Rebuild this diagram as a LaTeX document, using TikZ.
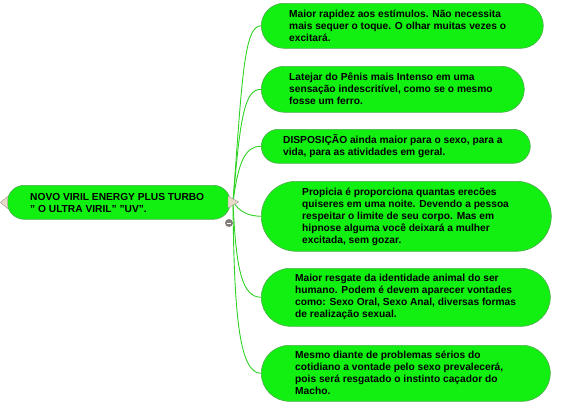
\documentclass[tikz,border=0pt]{standalone}
\usepackage{fontspec}
\setmainfont{Liberation Sans}
\definecolor{pillgreen}{RGB}{18,240,18}
\definecolor{pilledge}{RGB}{80,170,80}
\definecolor{linkgreen}{RGB}{45,210,35}
\definecolor{tribeige}{RGB}{232,218,200}
\definecolor{trigray}{RGB}{160,150,140}
\definecolor{minusgray}{RGB}{130,125,120}
\begin{document}
\begin{tikzpicture}[x=1pt,y=-1pt,
  pill/.style={draw=pilledge, line width=0.6pt, fill=pillgreen, inner sep=0pt, anchor=north west},
  txt/.style={anchor=west, align=left, inner sep=0pt, font=\bfseries\fontsize{10.2}{12}\selectfont},
  link/.style={draw=linkgreen, line width=0.9pt},
  tri/.style={fill=tribeige, draw=trigray, line width=0.4pt}]
\useasboundingbox (0,0) rectangle (564,407);

% root
\node[pill, minimum width=223pt, minimum height=34pt, rounded corners=17pt] (root) at (7,185) {};
\node[txt] (roott) at (30,202.5) {NOVO VIRIL ENERGY PLUS TURBO\\" O ULTRA VIRIL" "UV".};

% children
\node[pill, minimum width=282pt, minimum height=45pt, rounded corners=22.5pt] (c1) at (261,3) {};
\node[pill, minimum width=263pt, minimum height=46pt, rounded corners=23pt] (c2) at (261,66) {};
\node[pill, minimum width=269pt, minimum height=34pt, rounded corners=17pt] (c3) at (261,129) {};
\node[pill, minimum width=290pt, minimum height=70pt, rounded corners=35pt] (c4) at (261,181) {};
\node[pill, minimum width=289pt, minimum height=58pt, rounded corners=29pt] (c5) at (261,268) {};
\node[pill, minimum width=289pt, minimum height=56pt, rounded corners=28pt] (c6) at (261,345) {};

\node[txt] (t1) at (289,25.5) {Maior rapidez aos estímulos. Não necessita\\mais sequer o toque. O olhar muitas vezes o\\excitará.};
\node[txt] (t2) at (289,89) {Latejar do Pênis mais Intenso em uma\\sensação indescritível, como se o mesmo\\fosse um ferro.};
\node[txt] (t3) at (283,146) {DISPOSIÇÃO ainda maior para o sexo, para a\\vida, para as atividades em geral.};
\node[txt] (t4) at (302,216.5) {Propicia é proporciona quantas erecões\\quiseres em uma noite. Devendo a pessoa\\respeitar o limite de seu corpo. Mas em\\hipnose alguma você deixará a mulher\\excitada, sem gozar.};
\node[txt] (t5) at (295,297) {Maior resgate da identidade animal do ser\\humano. Podem é devem aparecer vontades\\como: Sexo Oral, Sexo Anal, diversas formas\\de realização sexual.};
\node[txt] (t6) at (295,373) {Mesmo diante de problemas sérios do\\cotidiano a vontade pelo sexo prevalecerá,\\pois será resgatado o instinto caçador do\\Macho.};

% connectors
\coordinate (hub) at (233,202);
\draw[link] (hub) .. controls (242,80) and (244,25.5) .. (c1.west);
\draw[link] (hub) .. controls (240,120) and (244,89) .. (c2.west);
\draw[link] (hub) .. controls (238,165) and (244,146) .. (c3.west);
\draw[link] (hub) .. controls (240,212) and (248,216) .. (c4.west);
\draw[link] (hub) .. controls (236,270) and (242,297) .. (c5.west);
\draw[link] (hub) .. controls (234,320) and (240,373) .. (c6.west);

% collapse triangles
\draw[tri] (7.5,196.5) -- (7.5,208.5) -- (0.5,202.5) -- cycle;
\draw[tri] (228,196) -- (228,208) -- (238.5,202) -- cycle;

% minus button
\node[circle, fill=minusgray, minimum size=8pt, inner sep=0pt] (minus) at (229,223) {};
\draw[white, line width=1pt] ([xshift=-2.3pt]minus.center) -- ([xshift=2.3pt]minus.center);
\end{tikzpicture}
\end{document}
